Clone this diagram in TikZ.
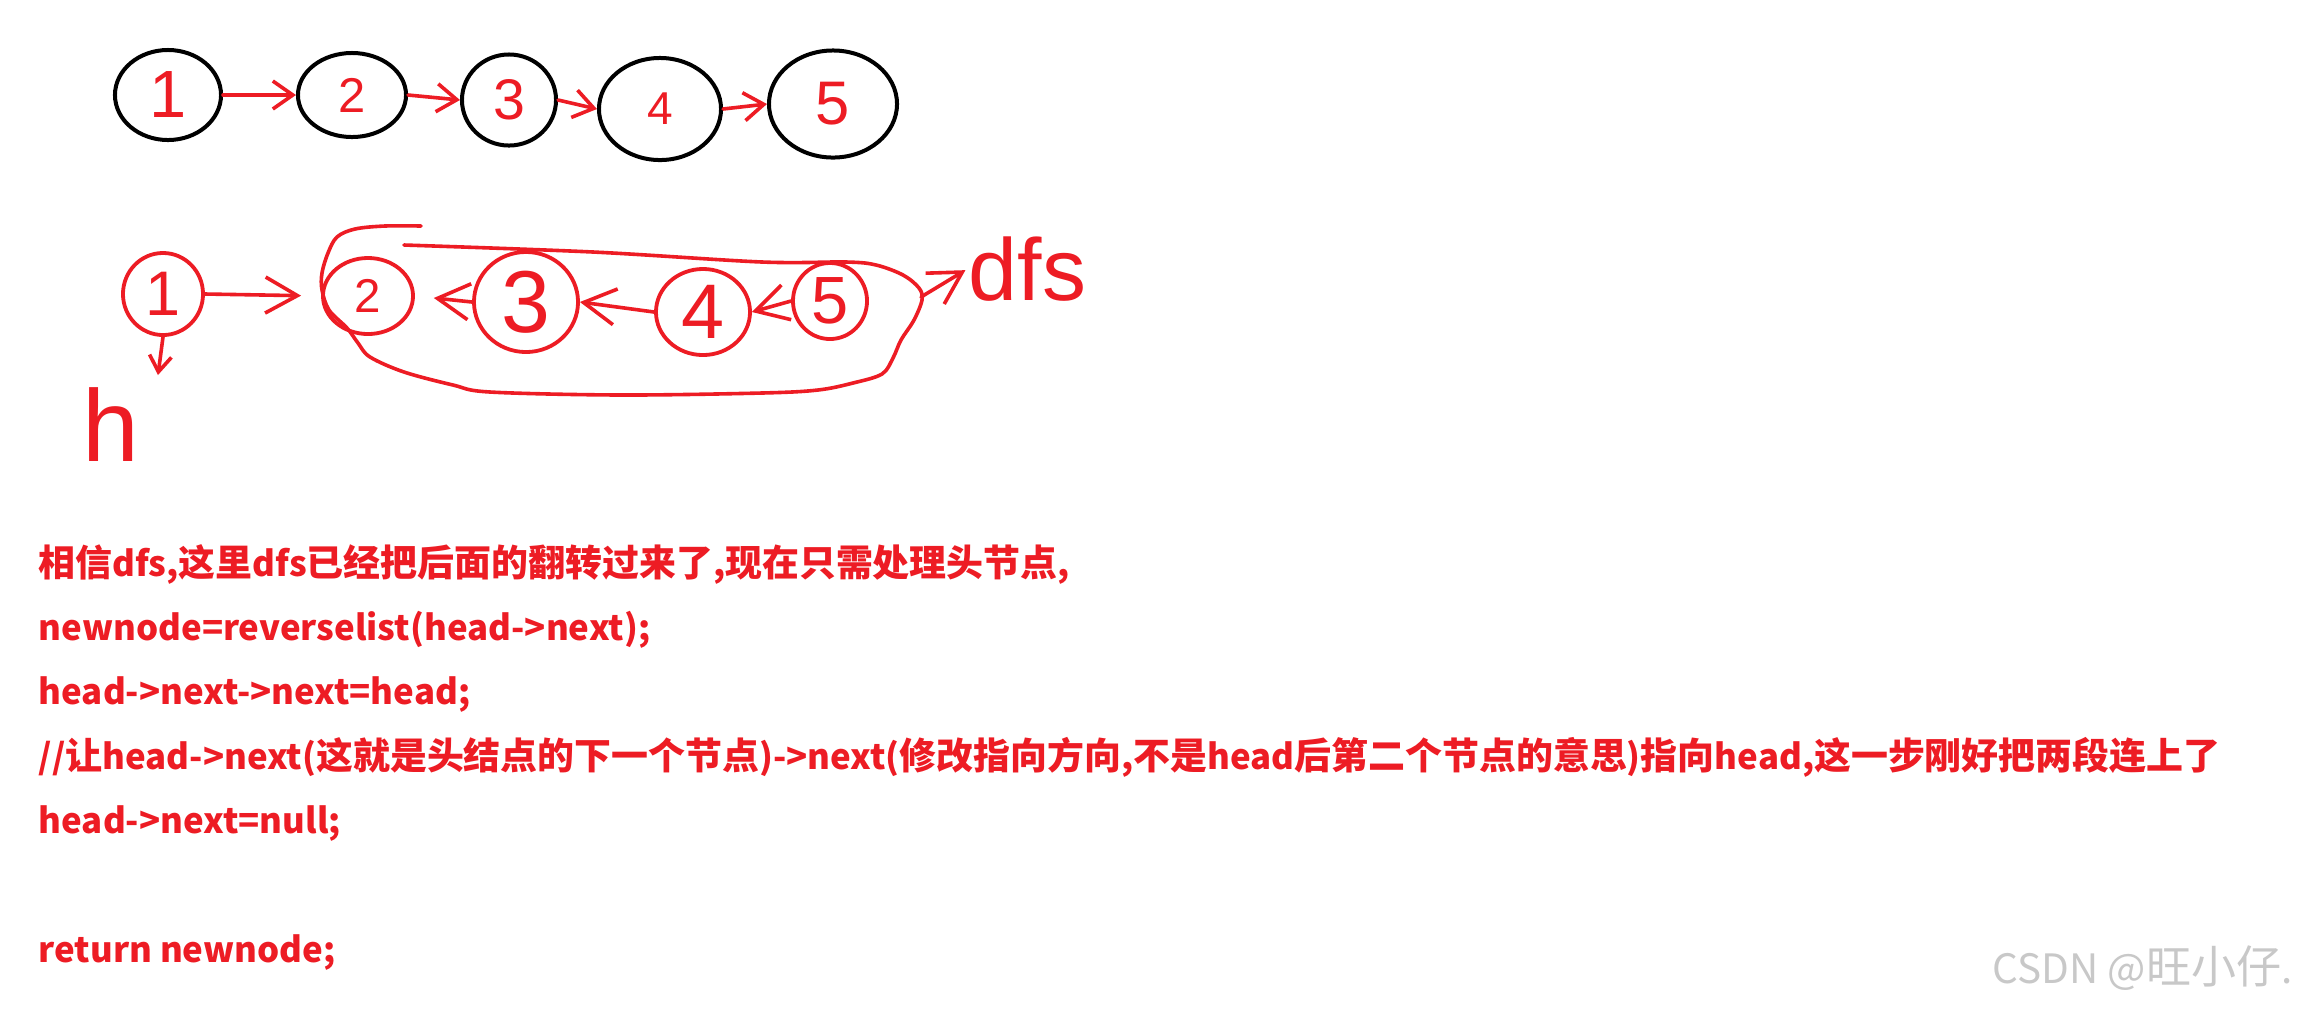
\documentclass[tikz,border=0pt]{standalone}
\usepackage{fontspec}
\setmainfont{Noto Sans CJK SC}
\newfontfamily\handfont{Liberation Sans}
\usetikzlibrary{shapes.geometric,arrows.meta}
\definecolor{hred}{RGB}{237,28,36}
\definecolor{wmgray}{RGB}{200,200,200}
\newcommand\zhs[1]{{\fontsize{10.5pt}{10.5pt}\selectfont #1}}
\newcommand\hw[2]{{\handfont\fontsize{#1}{#1}\selectfont #2}}
\begin{document}
\begin{tikzpicture}[x=0.01cm,y=-0.01cm,
  topnode/.style={ellipse, draw=black, line width=0.04cm, text=hred, inner sep=0pt},
  botnode/.style={ellipse, draw=hred, line width=0.038cm, text=hred, inner sep=0pt},
  penline/.style={draw=hred, line width=0.036cm, line cap=round, line join=round},
  toparrow/.style={penline, -{Straight Barb[length=0.2cm, width=0.28cm]}},
  botarrow/.style={penline, -{Straight Barb[length=0.32cm, width=0.36cm]}},
  smallarrow/.style={penline, -{Straight Barb[length=0.16cm, width=0.22cm]}},
  handtxt/.style={text=hred, inner sep=0pt},
  codetxt/.style={text=hred, inner sep=0pt, anchor=base west, font=\bfseries\fontsize{9.9pt}{9.9pt}\selectfont},
]
\fill[white] (0,0) rectangle (2300,1011);
\useasboundingbox (0,0) rectangle (2300,1011);

% top row
\node[topnode, minimum width=1.06cm, minimum height=0.90cm] (t1) at (168,95) {\hw{19pt}{1}};
\node[topnode, minimum width=1.08cm, minimum height=0.84cm] (t2) at (352,95) {\hw{13.9pt}{2}};
\node[topnode, minimum width=0.94cm, minimum height=0.91cm] (t3) at (509,100) {\hw{16.3pt}{3}};
\node[topnode, minimum width=1.22cm, minimum height=1.02cm] (t4) at (660,109) {\hw{13.1pt}{4}};
\node[topnode, minimum width=1.28cm, minimum height=1.07cm] (t5) at (833,104) {\hw{17.5pt}{5}};
\draw[toparrow] (t1.east) -- (t2.west);
\draw[toparrow] (t2.east) -- (t3.west);
\draw[toparrow] (t3.east) -- (t4.west);
\draw[toparrow] (t4.east) -- (t5.west);

% second row
\node[botnode, minimum width=0.80cm, minimum height=0.82cm] (b1) at (163,294) {\hw{17.9pt}{1}};
\node[botnode, minimum width=0.90cm, minimum height=0.76cm] (b2) at (368,296) {\hw{13.5pt}{2}};
\node[botnode, minimum width=1.04cm, minimum height=1.00cm] (b3) at (526,302) {\hw{25pt}{3}};
\node[botnode, minimum width=0.94cm, minimum height=0.86cm] (b4) at (703,312) {\hw{22pt}{4}};
\node[botnode, minimum width=0.74cm, minimum height=0.76cm] (b5) at (830,301) {\hw{19pt}{5}};
\draw[botarrow, shorten >=0.2cm] (b1.east) -- (b2.west);
\draw[botarrow, shorten >=0.19cm] (b3.west) -- (b2.east);
\draw[botarrow] (b4.west) -- (b3.east);
\draw[botarrow] (b5.west) -- (b4.east);
\coordinate (hend) at (158,375);
\draw[smallarrow] (b1.south) -- (hend);
\node[handtxt] (hl) at (111,425) {\hw{29pt}{h}};

% dfs loop
\draw[penline] plot[smooth, tension=0.55] coordinates {
 (421,226) (385,226) (355,229) (337,237) (328,253) (322,273) (322,290) (329,310)
 (347,328) (358,343) (370,357) (404,372) (453,385) (490,392) (621,395) (762,393)
 (818,390) (853,383) (882,374) (893,358) (901,340) (914,320) (922,300) (919,288)
 (903,275) (876,265) (846,262) (762,262) (593,252) (404,245)};
\coordinate (loopr) at (921,297);
\node[handtxt, anchor=base west] (dfs) at (968,300) {\hw{25pt}{dfs}};
\draw[botarrow, shorten >=0.03cm] (loopr) -- (dfs.west);

% code text
\node[codetxt] (l1) at (38,576) {\zhs{相信}dfs,\zhs{这里}dfs\zhs{已经把后面的翻转过来了},\zhs{现在只需处理头节点},};
\node[codetxt] (l2) at (38,640) {newnode=reverselist(head->next);};
\node[codetxt] (l3) at (38,704) {head->next->next=head;};
\node[codetxt] (l4) at (38,769) {//\zhs{让}head->next(\zhs{这就是头结点的下一个节点})->next(\zhs{修改指向方向},\zhs{不是}head\zhs{后第二个节点的意思})\zhs{指向}head,\zhs{这一步刚好把两段连上了}};
\node[codetxt] (l5) at (38,833) {head->next=null;};
\node[codetxt] (l7) at (38,962) {return newnode;};

% watermark
\node[anchor=base east, text=wmgray, inner sep=0pt] (wm) at (2293,983)
  {\fontsize{11.5pt}{11.5pt}\selectfont CSDN @{\fontsize{12.8pt}{12.8pt}\selectfont 旺小仔}.};
\end{tikzpicture}
\end{document}
